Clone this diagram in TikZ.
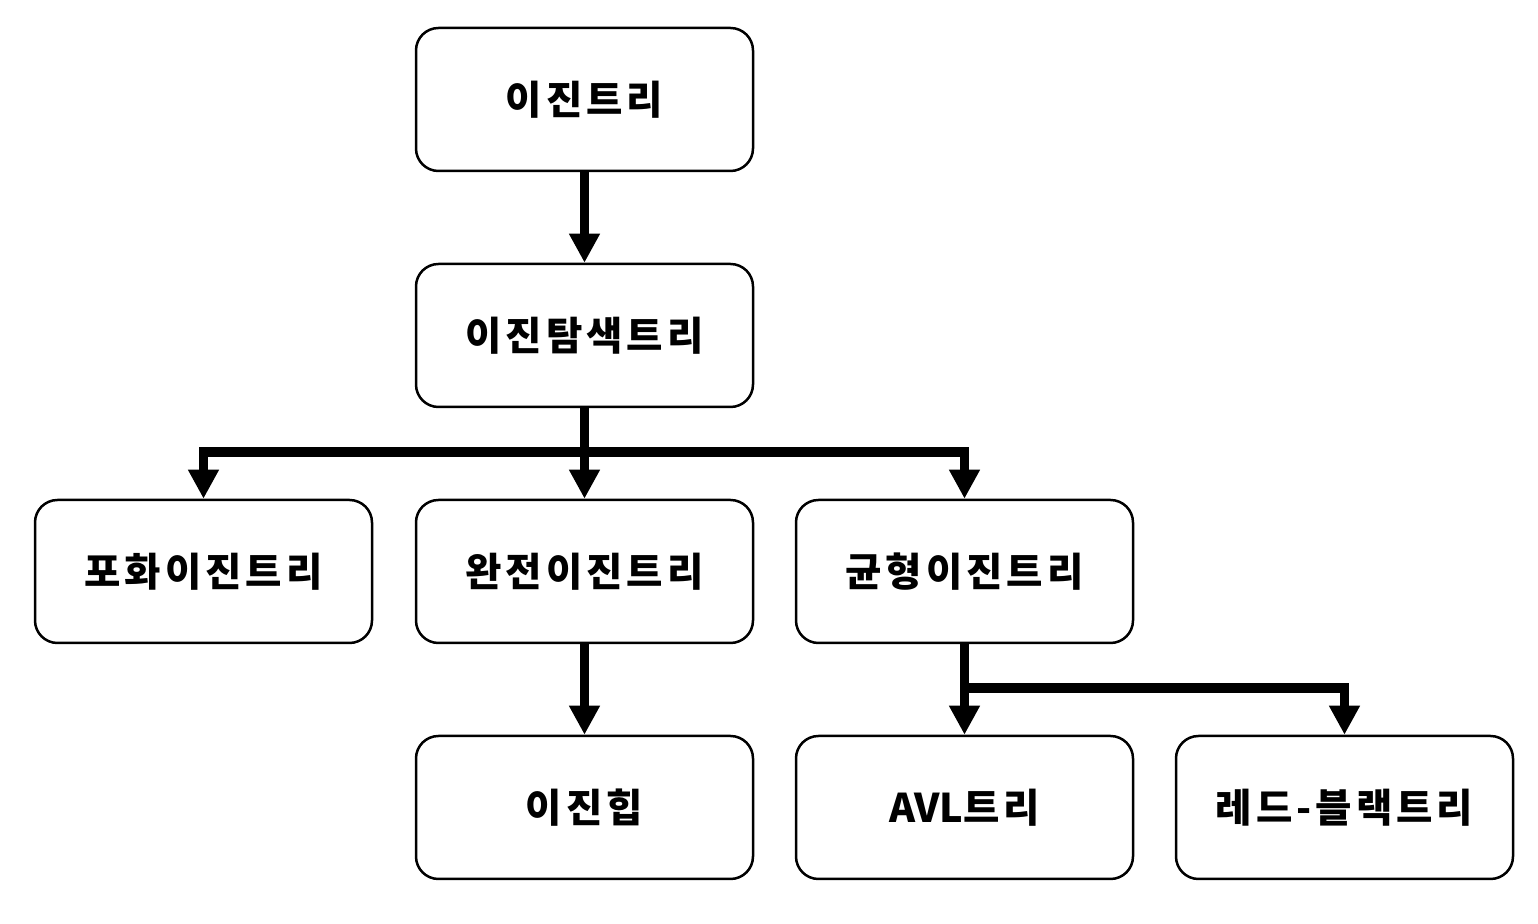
\documentclass[tikz,border=0pt]{standalone}
\usepackage{fontspec}
\setmainfont{Noto Sans CJK KR}[LetterSpace=10]
\newfontfamily\latinpart{Noto Sans CJK KR}
\usetikzlibrary{arrows.meta, positioning}

\begin{document}
\begin{tikzpicture}[
    treebox/.style={draw, line width=0.05cm, rounded corners=0.45cm, minimum width=6.74cm, minimum height=2.86cm, font=\fontsize{22.5}{27}\selectfont\bfseries},
    link/.style={line width=0.19cm, -{Triangle[length=0.58cm, width=0.58cm]}}
]
\useasboundingbox (0,0) rectangle (30.76,18.48);

\node[treebox] (bt) at (11.69, 16.49) {이진트리};
\node[treebox] (bst) at (11.69, 11.77) {이진탐색트리};
\node[treebox] (fbt) at (4.07, 7.05) {포화이진트리};
\node[treebox] (cbt) at (11.69, 7.05) {완전이진트리};
\node[treebox] (balbt) at (19.29, 7.05) {균형이진트리};
\node[treebox] (heap) at (11.69, 2.33) {이진힙};
\node[treebox] (avl) at (19.29, 2.33) {{\latinpart\bfseries AVL}트리};
\node[treebox] (rb) at (26.89, 2.33) {레드-블랙트리};

\coordinate (split) at (11.69, 9.44);
\coordinate (split2) at (19.29, 4.72);

\draw[link] (bt.south) -- (bst.north);
\draw[link] (bst.south) -- (cbt.north);
\draw[link] (split) -| (fbt.north);
\draw[link] (split) -| (balbt.north);
\draw[link] (cbt.south) -- (heap.north);
\draw[link] (balbt.south) -- (avl.north);
\draw[link] (split2) -| (rb.north);
\end{tikzpicture}
\end{document}
